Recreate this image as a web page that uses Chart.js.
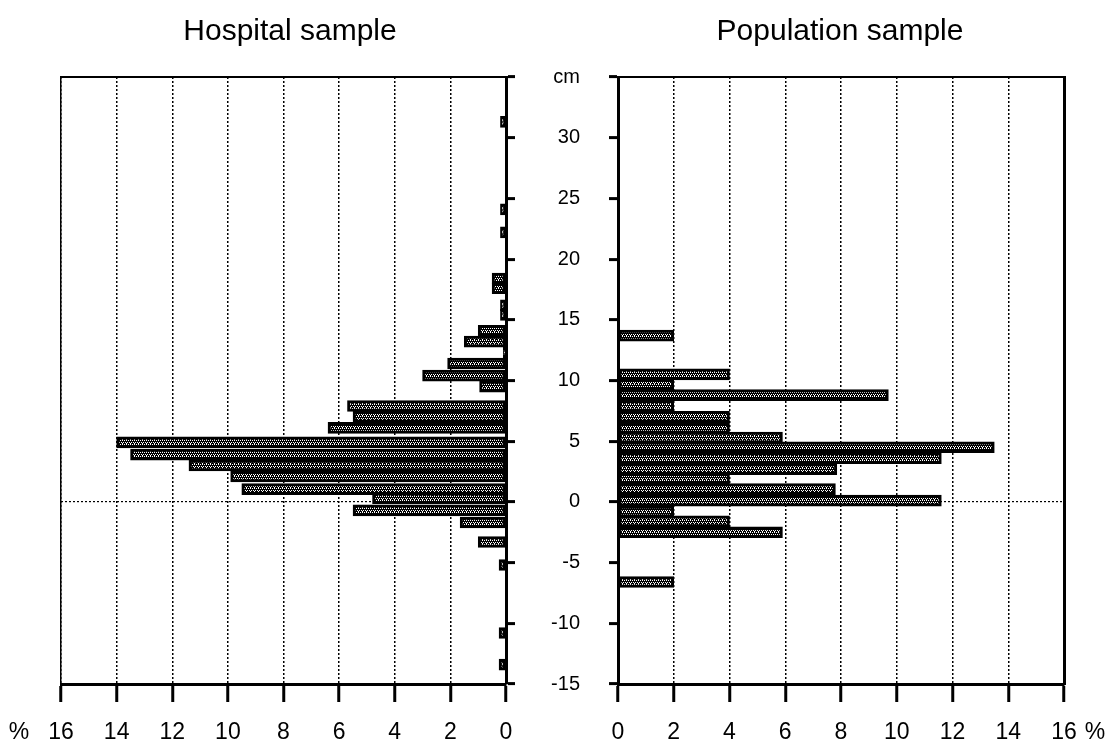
<!DOCTYPE html>
<html lang="en">
<head>
<meta charset="UTF-8">
<title>Hospital / Population sample</title>
<style>
  html, body { margin: 0; padding: 0; background: #fff; }
  .wrap { position: relative; width: 1116px; height: 749px; }
  .panel { position: absolute; top: 0; height: 749px; }
  #left { left: 0; width: 580px; }
  #right { left: 580px; width: 536px; }
</style>
</head>
<body>
<div class="wrap">
  <div class="panel" id="left"><canvas id="hospital"></canvas></div>
  <div class="panel" id="right"><canvas id="population"></canvas></div>
</div>

<script src="https://cdn.jsdelivr.net/npm/chart.js@4"></script>
<script>
  // cm position of each bar (centre) and its percentage
  const hospitalCm  = [31.3, 24.1, 22.2, 18.4, 17.6, 16.2, 15.4, 14.1, 13.2, 12.3, 11.4, 10.4, 9.5, 7.9, 7.0, 6.1,
                       4.9, 3.9, 3.0, 2.1, 1.05, 0.3, -0.7, -1.7, -3.3, -5.2, -10.8, -13.4];
  const hospitalPct = [0.2, 0.2, 0.2, 0.5, 0.5, 0.2, 0.2, 1.0, 1.5, 0.1, 2.1, 3.0, 0.95, 5.7, 5.5, 6.4,
                       14.0, 13.5, 11.4, 9.9, 9.5, 4.8, 5.5, 1.65, 1.0, 0.25, 0.25, 0.25];

  const populationCm  = [13.7, 10.5, 9.7, 8.8, 7.9, 7.0, 6.1, 5.3, 4.5, 3.6, 2.7, 1.9, 1.05, 0.1, -0.8, -1.6, -2.5, -6.6];
  const populationPct = [2.0, 4.0, 2.0, 9.7, 2.0, 4.0, 4.0, 5.9, 13.5, 11.6, 7.85, 4.0, 7.8, 11.6, 2.0, 4.0, 5.9, 2.0];

  const cmTicks  = [-15, -10, -5, 0, 5, 10, 15, 20, 25, 30, 35];
  const pctTicks = [0, 2, 4, 6, 8, 10, 12, 14, 16];
  const cmUnit = 'cm';

  const FONT = '"Liberation Sans", Arial, Helvetica, sans-serif';

  // stipple fill like the old printout
  function stipple() {
    const c = document.createElement('canvas');
    c.width = 4; c.height = 4;
    const g = c.getContext('2d');
    g.fillStyle = '#000';
    g.fillRect(0, 0, 4, 4);
    g.fillStyle = '#fff';
    [[0,0],[2,0],[1,2],[3,2],[2,3]].forEach(p => g.fillRect(p[0], p[1], 1, 1));
    return g.createPattern(c, 'repeat');
  }

  const percentSign = {
    id: 'percentSign',
    afterDraw(chart, args, opts) {
      const x = chart.scales.x;
      const ctx = chart.ctx;
      ctx.save();
      ctx.font = '23px ' + FONT;
      ctx.fillStyle = '#000';
      ctx.textAlign = 'center';
      ctx.textBaseline = 'middle';
      ctx.fillText('%', x.getPixelForValue(16) + opts.dx, opts.y);
      ctx.restore();
    }
  };

  function toPoints(cm, pct) {
    return cm.map((c, i) => ({ x: pct[i], y: c }));
  }

  function barSet(cm, pct) {
    return {
      data: toPoints(cm, pct),
      backgroundColor: stipple(),
      borderColor: '#000',
      borderWidth: 3,
      borderSkipped: false,
      barThickness: 11
    };
  }

  function pctAxis(reverse, height) {
    return {
      type: 'linear', axis: 'x', position: 'bottom',
      min: 0, max: 16, reverse: reverse,
      afterBuildTicks: s => { s.ticks = pctTicks.map(v => ({ value: v })); },
      afterFit: s => { s.height = height; },
      ticks: { font: { size: 23, family: FONT }, color: '#000', padding: 17, autoSkip: false, maxRotation: 0 },
      grid: { color: '#000', lineWidth: 1.5, tickColor: '#000', tickWidth: 3, tickLength: 18 },
      border: { display: true, color: '#000', width: 3, dash: [2, 2] }
    };
  }

  function cmAxis(position, width, showLabels) {
    return {
      type: 'linear', axis: 'y', position: position,
      min: -15, max: 35, offset: false, z: 1,
      afterBuildTicks: s => { s.ticks = cmTicks.map(v => ({ value: v })); },
      afterFit: s => { s.width = width; },
      ticks: {
        display: showLabels,
        font: { size: 20, family: FONT }, color: '#000',
        crossAlign: 'far', padding: 30,
        callback: v => (v === 35 ? cmUnit : v)
      },
      grid: {
        offset: false,
        color: c => (c.tick && c.tick.value === 0 ? '#000' : 'rgba(0,0,0,0)'),
        lineWidth: 1.2, tickColor: '#000', tickWidth: 3, tickLength: 9
      },
      border: { display: true, color: '#000', width: 3, dash: [2, 2] }
    };
  }

  function frameAxis(axis, position, size, width) {
    return {
      type: 'linear', axis: axis, position: position, min: 0, max: 1,
      afterFit: s => { if (axis === 'x') s.height = size; else s.width = size; },
      ticks: { display: false },
      grid: { display: false, drawTicks: false },
      border: { display: true, color: '#000', width: width }
    };
  }

  function titleOpts(text) {
    return {
      display: true, text: text, color: '#000',
      font: { size: 30, family: FONT, weight: 'normal' },
      padding: { top: 14, bottom: 27 }
    };
  }

  // left panel: hospital sample, bars grow leftwards
  new Chart(document.getElementById('hospital'), {
    type: 'bar',
    data: { datasets: [barSet(hospitalCm, hospitalPct)] },
    options: {
      indexAxis: 'y',
      responsive: true,
      maintainAspectRatio: false,
      animation: false,
      layout: { padding: 0 },
      plugins: {
        legend: { display: false },
        tooltip: { enabled: false },
        title: titleOpts('Hospital sample'),
        percentSign: { dx: -42, y: 733 }
      },
      scales: {
        x: pctAxis(true, 65),
        y: cmAxis('right', 74, true),
        xTop: frameAxis('x', 'top', 0, 2),
        yLeft: frameAxis('y', 'left', 61, 1.5)
      }
    },
    plugins: [percentSign]
  });

  // right panel: population sample
  new Chart(document.getElementById('population'), {
    type: 'bar',
    data: { datasets: [barSet(populationCm, populationPct)] },
    options: {
      indexAxis: 'y',
      responsive: true,
      maintainAspectRatio: false,
      animation: false,
      layout: { padding: { left: 24, right: 40, top: 0, bottom: 0 } },
      plugins: {
        legend: { display: false },
        tooltip: { enabled: false },
        title: titleOpts('Population sample'),
        percentSign: { dx: 31, y: 733 }
      },
      scales: {
        x: pctAxis(false, 65),
        y: cmAxis('left', 14, false),
        xTop: frameAxis('x', 'top', 0, 2),
        yRight: frameAxis('y', 'right', 12, 3)
      }
    },
    plugins: [percentSign]
  });
</script>
</body>
</html>
